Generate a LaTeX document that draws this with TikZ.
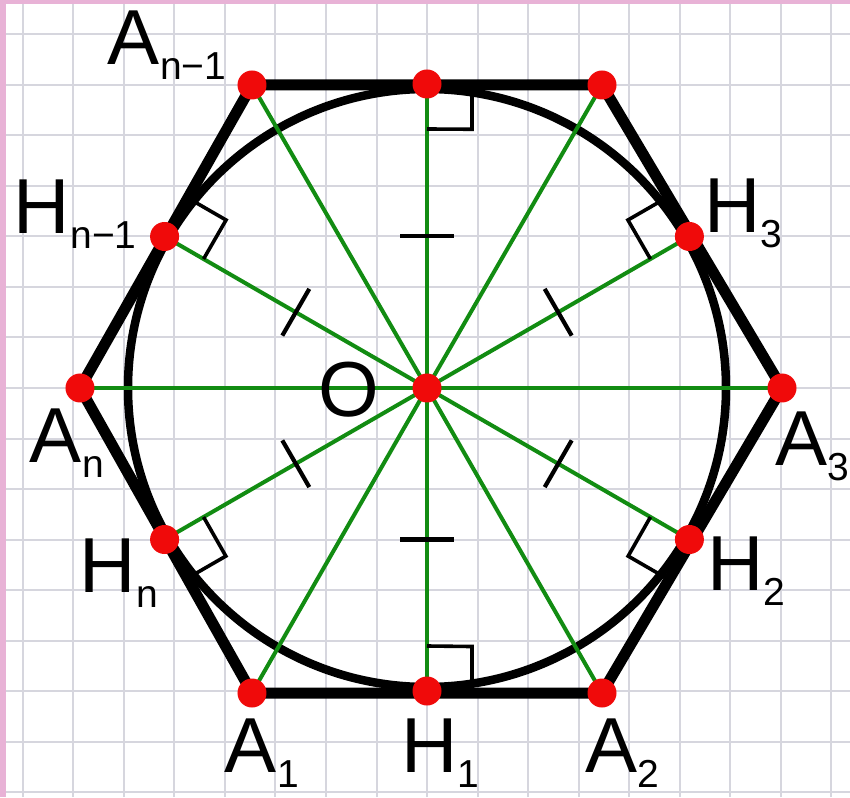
\documentclass[tikz,border=0pt]{standalone}
\usepackage{fontspec}
\setmainfont{Liberation Sans}
\usetikzlibrary{calc}
\definecolor{gridc}{RGB}{214,214,222}
\definecolor{pinkc}{RGB}{232,178,214}
\definecolor{greenc}{RGB}{18,140,18}
\definecolor{redc}{RGB}{240,10,10}
\newcommand{\mylab}[2]{{\fontsize{78}{78}\selectfont #1}\raisebox{-15pt}[0pt][0pt]{\fontsize{39}{39}\selectfont #2}}
\tikzset{
  gridline/.style={draw=gridc, line width=2pt},
  hexline/.style={draw=black, line width=11pt, line join=round},
  circline/.style={draw=black, line width=8.5pt},
  radius line/.style={draw=greenc, line width=4pt},
  ramark/.style={draw=black, line width=3.6pt},
  tickmark/.style={draw=black, line width=4.2pt},
  dotc/.style={fill=redc},
  lbl/.style={anchor=base west, inner sep=0pt, outer sep=0pt}
}
\begin{document}
\begin{tikzpicture}[x=1pt,y=1pt]
\useasboundingbox (-427,-409) rectangle (423,388);
\fill[white] (-427,-409) rectangle (423,388);
\draw[gridline, step=50.5] (-427,-409) grid (423,388);
\fill[pinkc] (-427,-409) rectangle (-421,388);
\fill[pinkc] (-427,384) rectangle (423,388);
% points
\coordinate (O) at (0,0);
\coordinate (V0) at (355,0);
\coordinate (V1) at (175,303);
\coordinate (V2) at (-175,303);
\coordinate (V3) at (-347,0);
\coordinate (V4) at (-175,-305);
\coordinate (V5) at (175,-305);
\coordinate (G0) at (30:303);
\coordinate (G1) at (90:304);
\coordinate (G2) at (150:303);
\coordinate (G3) at (210:303);
\coordinate (G4) at (270:303);
\coordinate (G5) at (330:303);
% circle and hexagon
\draw[circline] (O) circle (299);
\draw[hexline] (V0) -- (V1) -- (V2) -- (V3) -- (V4) -- (V5) -- cycle;
% green radii
\foreach \i in {0,...,5} {
  \draw[radius line] (O) -- (V\i);
  \draw[radius line] (O) -- (G\i);
}
% right angle marks
\foreach \g/\v in {G0/V1, G1/V1, G2/V2, G3/V4, G4/V5, G5/V5} {
  \coordinate (c1) at ($(\g)!45pt!(\v)$);
  \coordinate (c2) at ($(\g)!45pt!(O)$);
  \draw[ramark] (c1) -- ($(c1)+(c2)-(\g)$) -- (c2);
}
% tick marks
\foreach \i in {0,...,5} {
  \coordinate (M) at ($(O)!0.5!(G\i)$);
  \draw[tickmark] ($(M)!27pt!90:(G\i)$) -- ($(M)!27pt!-90:(G\i)$);
}
% dots
\foreach \p in {O,V0,V1,V2,V3,V4,V5,G0,G1,G2,G3,G4,G5} {
  \fill[dotc] (\p) circle (14.5);
}
% labels
\node[lbl] (lA2) at (-319,323) {\mylab{A}{n−1}};
\node[lbl] (lH2) at (-413,154) {\mylab{H}{n−1}};
\node[lbl] (lH0) at (277,155) {\mylab{H}{3}};
\node[lbl] (lA3) at (-397,-74) {\mylab{A}{n}};
\node[lbl] (lA0) at (348,-77) {\mylab{A}{3}};
\node[lbl] (lH3) at (-347,-204) {\mylab{H}{n}};
\node[lbl] (lH5) at (280,-202) {\mylab{H}{2}};
\node[lbl] (lA4) at (-202,-384) {\mylab{A}{1}};
\node[lbl] (lH4) at (-26,-384) {\mylab{H}{1}};
\node[lbl] (lA5) at (158,-384) {\mylab{A}{2}};
\node[lbl] (lO) at (-109,-28) {\fontsize{78}{78}\selectfont O};
\end{tikzpicture}
\end{document}
